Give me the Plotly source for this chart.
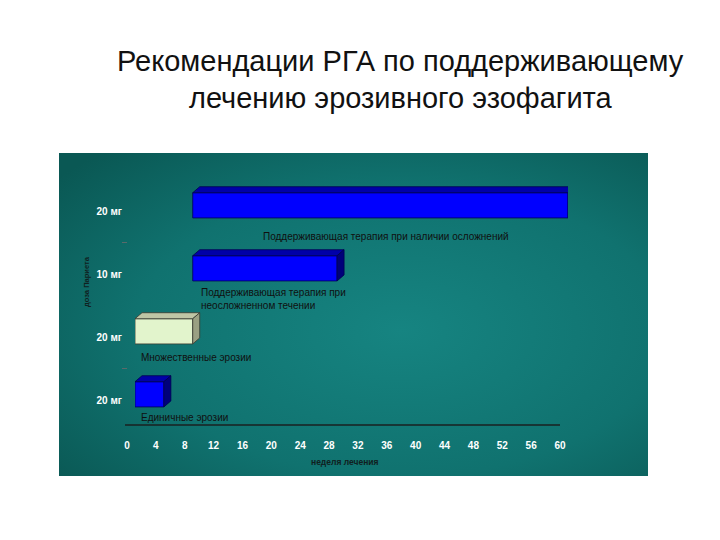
import base64
import plotly.graph_objects as go

# ---------------- data ----------------
dose_labels = ["20 мг", "20 мг", "10 мг", "20 мг"]          # bottom -> top
bar_names = [
    "Единичные эрозии",
    "Множественные эрозии",
    "Поддерживающая терапия при<br>неосложненном течении",
    "Поддерживающая терапия при наличии осложнений",
]
start_week = [0, 0, 8, 8]
end_week = [4, 8, 28, 60]
x_ticks = list(range(0, 61, 4))

# ---------------- styles ----------------
W, H = 720, 540
OFF = 8  # page body margin


def px(x):
    return (x - OFF) / W


def py(y):
    return (H - (y - OFF)) / H


front_col = ["#0000ff", "#e2f4cc", "#0000ff", "#0000ff"]
top_col = ["#0000a8", "#bfc6a6", "#0000a8", "#0000a8"]
side_col = ["#00007a", "#9aa083", "#00007a", "#00007a"]
edge_col = ["#000050", "#3a3a30", "#000050", "#000050"]
label_dx = [0.6, 0.6, 0.8, 9.5]       # weeks from bar start
label_dy = [0.27, 0.32, 0.39, 0.41]   # category units below centre

x0_px, x1_px = 135, 568               # week 0 and week 60
y_lo, y_hi = -0.5, 3.5
ypx_bottom, unit_px = 431.5, 63.0
ypx_top = ypx_bottom - (y_hi - y_lo) * unit_px
px_per_week = (x1_px - x0_px) / 60.0
dxw = 7 / px_per_week
dyu = 6 / unit_px
bar_w, bar_off = 0.40, -0.11

ypos = list(range(len(dose_labels)))

fig = go.Figure()

for i in ypos:
    s, e = start_week[i], end_week[i]
    fig.add_trace(go.Bar(
        y=[i], x=[e - s], base=[s], orientation="h",
        width=bar_w, offset=bar_off,
        marker=dict(color=front_col[i], line=dict(color=edge_col[i], width=0.8)),
        hoverinfo="skip",
    ))
    y0 = i + bar_off
    y1 = y0 + bar_w
    fig.add_trace(go.Scatter(
        x=[s, s + dxw, e + dxw, e, s], y=[y1, y1 + dyu, y1 + dyu, y1, y1],
        fill="toself", fillcolor=top_col[i], mode="lines",
        line=dict(color=edge_col[i], width=0.8), hoverinfo="skip",
    ))
    fig.add_trace(go.Scatter(
        x=[e, e + dxw, e + dxw, e, e], y=[y0, y0 + dyu, y1 + dyu, y1, y0],
        fill="toself", fillcolor=side_col[i], mode="lines",
        line=dict(color=edge_col[i], width=0.8), hoverinfo="skip",
    ))

annotations = []
for i in ypos:
    annotations.append(dict(
        x=start_week[i] + label_dx[i], y=i - label_dy[i], xref="x", yref="y",
        text=bar_names[i], showarrow=False, xanchor="left", yanchor="middle",
        align="left",
        font=dict(family="Arial, Liberation Sans", size=10, color="#101010"),
    ))

annotations += [
    dict(x=px(401), y=py(61), xref="paper", yref="paper",
         xanchor="center", yanchor="middle",
         text="Рекомендации РГА по поддерживающему", showarrow=False,
         font=dict(family="Arial, Liberation Sans", size=29, color="#111111")),
    dict(x=px(401), y=py(98), xref="paper", yref="paper",
         xanchor="center", yanchor="middle",
         text="лечению эрозивного эзофагита", showarrow=False,
         font=dict(family="Arial, Liberation Sans", size=29, color="#111111")),
    dict(x=px(345), y=py(462), xref="paper", yref="paper",
         xanchor="center", yanchor="middle",
         text="<b>неделя лечения</b>", showarrow=False,
         font=dict(family="Arial, Liberation Sans", size=8.5, color="#102020")),
    dict(x=px(86), y=py(282), xref="paper", yref="paper",
         xanchor="center", yanchor="middle",
         text="<b>доза Париета</b>", showarrow=False, textangle=-90,
         font=dict(family="Arial, Liberation Sans", size=7.5, color="#102020")),
]

pw, ph = 589, 323
svg = (f'<svg xmlns="http://www.w3.org/2000/svg" width="{pw}" height="{ph}">'
       '<defs><radialGradient id="g" cx="0.58" cy="0.55" r="0.75">'
       '<stop offset="0" stop-color="#168481"/>'
       '<stop offset="0.6" stop-color="#10726f"/>'
       '<stop offset="1" stop-color="#0a5854"/></radialGradient></defs>'
       f'<rect width="{pw}" height="{ph}" fill="url(#g)"/></svg>')
src = "data:image/svg+xml;base64," + base64.b64encode(svg.encode()).decode()

shapes = [dict(type="line", xref="paper", yref="paper",
               x0=px(125), x1=px(560), y0=py(425), y1=py(425),
               line=dict(color="#1a2020", width=1.5))]
for yb in (0.5, 2.5):
    shapes.append(dict(type="line", xref="paper", yref="y",
                       x0=px(122), x1=px(127), y0=yb, y1=yb,
                       line=dict(color="#5a6a6a", width=1)))

fig.update_layout(
    width=W, height=H,
    margin=dict(l=0, r=0, t=0, b=0, autoexpand=False),
    paper_bgcolor="white", plot_bgcolor="rgba(0,0,0,0)",
    showlegend=False, barmode="overlay",
    annotations=annotations,
    images=[dict(source=src, xref="paper", yref="paper",
                 x=px(59), y=py(153), sizex=pw / W, sizey=ph / H,
                 xanchor="left", yanchor="top", sizing="stretch", layer="below")],
    shapes=shapes,
    xaxis=dict(
        domain=[px(x0_px), px(x1_px)], range=[0, 60], automargin=False,
        tickvals=x_ticks, ticktext=[f"<b>{v}</b>" for v in x_ticks],
        ticks="", showgrid=False, zeroline=False, showline=False,
        ticklabelshift=-8, ticklabelstandoff=6,
        tickfont=dict(family="Arial, Liberation Sans", size=10, color="white"),
    ),
    yaxis=dict(
        domain=[py(ypx_bottom), py(ypx_top)], range=[y_lo, y_hi], automargin=False,
        tickvals=ypos, ticktext=[f"<b>{d}</b>" for d in dose_labels],
        ticks="", showgrid=False, zeroline=False, showline=False,
        ticklabelstandoff=12,
        tickfont=dict(family="Arial, Liberation Sans", size=10, color="white"),
    ),
)

fig.write_html("out.html")
